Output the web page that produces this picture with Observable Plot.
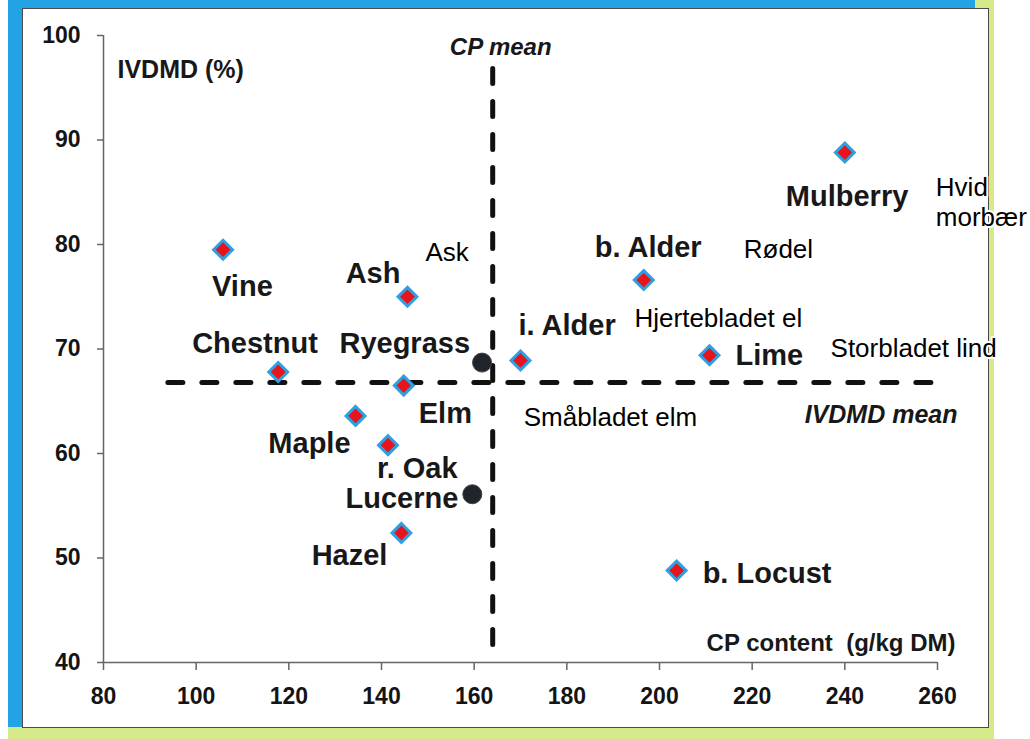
<!DOCTYPE html>
<html>
<head>
<meta charset="utf-8">
<script src="https://cdn.jsdelivr.net/npm/d3@7"></script>
<script src="https://cdn.jsdelivr.net/npm/@observablehq/plot@0.6"></script>
<style>
  html, body { margin: 0; padding: 0; background: #fff; }
  #wrap { position: relative; width: 1030px; height: 739px; background: #fff; overflow: hidden; }
  .deco { position: absolute; }
  #chart { position: absolute; left: 0; top: 0; }
</style>
</head>
<body>
<div id="wrap">
  <div class="deco" style="left:8px;top:0;width:15px;height:728px;background:#22a3e6"></div>
  <div class="deco" style="left:8px;top:0;width:967px;height:9px;background:#22a3e6"></div>
  <div class="deco" style="left:975px;top:0;width:19px;height:9px;background:#d6ea8c"></div>
  <div class="deco" style="left:988px;top:0;width:6px;height:739px;background:#d6ea8c"></div>
  <div class="deco" style="left:8px;top:727px;width:986px;height:12px;background:#d6ea8c"></div>
  <div class="deco" style="left:22px;top:8px;width:965px;height:718px;border:1.5px solid #4a4a4a;background:#fff"></div>
  <div id="chart"></div>
</div>
<script>
// ---- data ----
const species   = ["Mulberry", "Vine", "Ash", "Chestnut", "Ryegrass", "i. Alder", "Elm", "Maple", "r. Oak", "Lucerne", "Hazel", "b. Alder", "Lime", "b. Locust"];
const cpContent = [240, 105.8, 145.6, 117.7, 161.7, 170.0, 144.8, 134.4, 141.4, 159.6, 144.3, 196.6, 210.8, 203.7];
const ivdmd     = [88.8, 79.5, 75.0, 67.8, 68.7, 68.9, 66.5, 63.6, 60.8, 56.1, 52.4, 76.6, 69.4, 48.8];
const groups    = ["browse", "browse", "browse", "browse", "forage", "browse", "browse", "browse", "browse", "forage", "browse", "browse", "browse", "browse"];
const danishNames = { "Ash": "Ask", "b. Alder": "Rødel", "i. Alder": "Hjertebladet el", "Lime": "Storbladet lind", "Elm": "Småbladet elm", "Mulberry": "Hvid\nmorbær" };
const cpMean = 164;
const ivdmdMean = 66.8;
const xTicks = [80, 100, 120, 140, 160, 180, 200, 220, 240, 260];
const yTicks = [40, 50, 60, 70, 80, 90, 100];
const xTitle = "CP content  (g/kg DM)";
const yTitle = "IVDMD (%)";

// ---- layout (label offsets in px, relative to points) ----
const labelLayout = {
  "Mulberry":  { anchor: "start", dx: -59, dy: 53 },
  "Vine":      { anchor: "start", dx: -11, dy: 46 },
  "Ash":       { anchor: "end",   dx: -7,  dy: -14 },
  "Chestnut":  { anchor: "start", dx: -86, dy: -19 },
  "Ryegrass":  { anchor: "end",   dx: -12, dy: -10 },
  "i. Alder":  { anchor: "start", dx: -2,  dy: -25 },
  "Elm":       { anchor: "start", dx: 15,  dy: 37 },
  "Maple":     { anchor: "end",   dx: -5,  dy: 37 },
  "r. Oak":    { anchor: "start", dx: -11, dy: 33 },
  "Lucerne":   { anchor: "end",   dx: -14, dy: 14 },
  "Hazel":     { anchor: "end",   dx: -14, dy: 32 },
  "b. Alder":  { anchor: "start", dx: -49, dy: -23 },
  "Lime":      { anchor: "start", dx: 26,  dy: 10 },
  "b. Locust": { anchor: "start", dx: 26,  dy: 12 }
};
const danishLayout = {
  "Ash":      { dx: 18,  dy: -36 },
  "b. Alder": { dx: 100, dy: -22 },
  "i. Alder": { dx: 114, dy: -33 },
  "Lime":     { dx: 121, dy: 2 },
  "Elm":      { dx: 120, dy: 40 },
  "Mulberry": { dx: 91,  dy: 22, top: true }
};

const rows = species.map((s, i) => ({ species: s, cp: cpContent[i], iv: ivdmd[i], group: groups[i] }));

const sans = "'Liberation Sans', Arial, sans-serif";

const labelMarks = rows.map(r => {
  const L = labelLayout[r.species];
  return Plot.text([r], {
    x: "cp", y: "iv", text: "species",
    textAnchor: L.anchor, lineAnchor: "bottom",
    dx: L.dx, dy: L.dy,
    fontSize: 29, fontWeight: "bold", fontFamily: sans, fill: "#181818"
  });
});

const danishMarks = rows.filter(r => danishNames[r.species]).map(r => {
  const L = danishLayout[r.species];
  return Plot.text([r], {
    x: "cp", y: "iv", text: d => danishNames[d.species],
    textAnchor: "start", lineAnchor: L.top ? "top" : "bottom", lineHeight: 1.15,
    dx: L.dx, dy: L.dy,
    fontSize: 26, fontFamily: sans, fill: "#000",
    stroke: "#fff", strokeWidth: 4, paintOrder: "stroke"
  });
});

const chart = Plot.plot({
  width: 1030,
  height: 739,
  marginLeft: 103,
  marginRight: 93,
  marginTop: 35,
  marginBottom: 77,
  style: { background: "transparent", overflow: "visible", color: "#141414", fontFamily: sans },
  x: { domain: [80, 260] },
  y: { domain: [40, 100] },
  marks: [
    Plot.axisX({ ticks: xTicks, tickSize: 8, tickPadding: 17, label: null, stroke: "#666", strokeWidth: 1.5,
                 fontSize: 23, fontWeight: "bold", fontFamily: sans, tickFormat: d => String(d) }),
    Plot.axisY({ ticks: yTicks, tickSize: 6, tickPadding: 17, label: null, stroke: "#666", strokeWidth: 1.5,
                 fontSize: 23, fontWeight: "bold", fontFamily: sans, tickFormat: d => String(d) }),
    Plot.ruleY([40], { stroke: "#666", strokeWidth: 1.5 }),
    Plot.ruleX([80], { stroke: "#666", strokeWidth: 1.5 }),
    // mean lines
    Plot.ruleX([cpMean], { y1: 96.8, y2: 41.15, stroke: "#111", strokeWidth: 5,
                           strokeDasharray: "15,18", strokeLinecap: "round" }),
    Plot.ruleY([ivdmdMean], { x1: 94, x2: 261.5, stroke: "#111", strokeWidth: 5,
                              strokeDasharray: "15,19", strokeLinecap: "round" }),
    // points
    Plot.dot(rows.filter(d => d.group === "browse"), {
      x: "cp", y: "iv", symbol: "diamond2", r: 8.5,
      fill: "#e8141c", stroke: "#2e9fe2", strokeWidth: 3
    }),
    Plot.dot(rows.filter(d => d.group === "forage"), {
      x: "cp", y: "iv", r: 9.5, fill: "#1f252a", stroke: "#3c4349", strokeWidth: 1
    }),
    ...labelMarks,
    ...danishMarks,
    // axis titles and mean annotations
    Plot.text([yTitle], { frameAnchor: "top-left", text: d => d, textAnchor: "start", lineAnchor: "bottom",
                          dx: 14, dy: 42, fontSize: 25, fontWeight: "bold", fontFamily: sans, fill: "#181818" }),
    Plot.text([xTitle], { frameAnchor: "bottom-right", text: d => d, textAnchor: "end", lineAnchor: "bottom",
                          dx: 18, dy: -12, fontSize: 24, fontWeight: "bold", fontFamily: sans, fill: "#181818" }),
    Plot.text(["CP mean"], { x: cpMean, frameAnchor: "top", text: d => d, textAnchor: "middle", lineAnchor: "bottom",
                             dx: 8, dy: 19, fontSize: 24, fontWeight: "bold", fontStyle: "italic", fontFamily: sans, fill: "#181818" }),
    Plot.text(["IVDMD mean"], { y: ivdmdMean, frameAnchor: "right", text: d => d, textAnchor: "end", lineAnchor: "bottom",
                                dx: 20, dy: 41, fontSize: 25, fontWeight: "bold", fontStyle: "italic", fontFamily: sans, fill: "#181818" })
  ]
});
document.getElementById("chart").appendChild(chart);
</script>
</body>
</html>
